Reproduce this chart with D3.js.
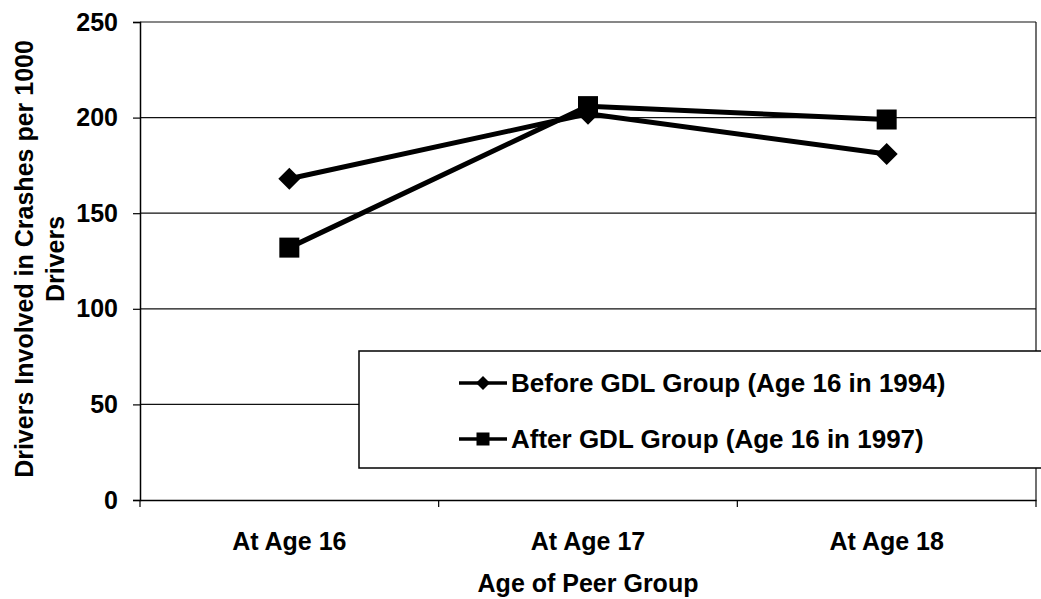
<!DOCTYPE html>
<html>
<head>
<meta charset="utf-8">
<script src="https://cdn.jsdelivr.net/npm/d3@7/dist/d3.min.js"></script>
<style>
  html, body { margin: 0; padding: 0; background: #fff; }
  svg { display: block; }
  text { font-family: "Liberation Sans", Arial, Helvetica, sans-serif; font-weight: bold; fill: #000; }
</style>
</head>
<body>
<svg id="chart" width="1041" height="599"></svg>
<script>
const categories = ["At Age 16", "At Age 17", "At Age 18"];
const beforeValues = [168, 202, 181];
const afterValues = [132, 206, 199];
const seriesNames = ["Before GDL Group (Age 16 in 1994)", "After GDL Group (Age 16 in 1997)"];
const yTicks = [0, 50, 100, 150, 200, 250];
const yTitleLines = ["Drivers Involved in Crashes per 1000", "Drivers"];
const xTitle = "Age of Peer Group";

(function () {
const svg = d3.select("#chart");
const pL = 140, pR = 1036, pT = 22, pB = 500;

const x = d3.scaleBand().domain(categories).range([pL, pR]);
const y = d3.scaleLinear().domain([0, 250]).range([pB, pT]);

// gridlines
svg.append("g").selectAll("line").data(yTicks.filter(t => t > 0)).join("line")
  .attr("x1", pL).attr("x2", pR)
  .attr("y1", d => y(d)).attr("y2", d => y(d))
  .attr("stroke", "#111").attr("stroke-width", 1.2);

// right border
svg.append("line").attr("x1", pR).attr("x2", pR).attr("y1", pT).attr("y2", pB)
  .attr("stroke", "#111").attr("stroke-width", 1.2);

// y axis
const yAxis = svg.append("g").attr("transform", `translate(${pL},0)`)
  .call(d3.axisLeft(y).tickValues(yTicks).tickSize(7).tickPadding(15));
yAxis.select(".domain").attr("stroke", "#000").attr("stroke-width", 1.5);
yAxis.selectAll(".tick line").attr("stroke", "#000").attr("stroke-width", 1.2);
yAxis.selectAll(".tick text").style("font-size", "25px").style("font-family", "Liberation Sans, Arial, sans-serif").style("font-weight", "bold").attr("fill", "#000");

// x axis
const xAxis = svg.append("g").attr("transform", `translate(0,${pB})`)
  .call(d3.axisBottom(x).tickSize(0).tickPadding(32));
xAxis.select(".domain").attr("stroke", "#000").attr("stroke-width", 1.5);
xAxis.selectAll(".tick text").style("font-size", "25px").style("font-family", "Liberation Sans, Arial, sans-serif").style("font-weight", "bold").attr("fill", "#000");
// x tick marks at category boundaries
const bounds = categories.map(c => x(c)).concat([x(categories[categories.length - 1]) + x.bandwidth()]);
svg.append("g").selectAll("line").data(bounds).join("line")
  .attr("x1", d => d).attr("x2", d => d).attr("y1", pB).attr("y2", pB + 7)
  .attr("stroke", "#000").attr("stroke-width", 1.2);

// axis titles
svg.append("text").attr("x", (pL + pR) / 2).attr("y", 592)
  .attr("text-anchor", "middle").style("font-size", "25px").text(xTitle);

const yt = svg.append("text").attr("transform", `translate(33,${(pT + pB) / 2 - 2}) rotate(-90)`)
  .attr("text-anchor", "middle").style("font-size", "25px");
yt.selectAll("tspan").data(yTitleLines).join("tspan")
  .attr("x", 0).attr("dy", (d, i) => i === 0 ? 0 : 31).text(d => d);

// lines
const cx = c => x(c) + x.bandwidth() / 2;
const line = d3.line().x((d, i) => cx(categories[i])).y(d => y(d));

const series = [
  { name: seriesNames[0], values: beforeValues, shape: "diamond" },
  { name: seriesNames[1], values: afterValues, shape: "square" }
];

function marker(g, shape, px, py, s) {
  if (shape === "diamond") {
    g.append("path")
      .attr("d", `M${px},${py - s}L${px + s},${py}L${px},${py + s}L${px - s},${py}Z`)
      .attr("fill", "#000");
  } else {
    g.append("rect").attr("x", px - s).attr("y", py - s).attr("width", 2 * s).attr("height", 2 * s)
      .attr("fill", "#000");
  }
}

series.forEach(s => {
  const g = svg.append("g");
  g.append("path").datum(s.values).attr("d", line)
    .attr("fill", "none").attr("stroke", "#000").attr("stroke-width", 5).attr("stroke-linejoin", "round");
  s.values.forEach((v, i) => {
    marker(g, s.shape, cx(categories[i]), y(v), s.shape === "diamond" ? 11 : 10);
  });
});

// legend
const lg = svg.append("g");
lg.append("rect").attr("x", 359).attr("y", 351).attr("width", 690).attr("height", 117)
  .attr("fill", "#fff").attr("stroke", "#000").attr("stroke-width", 1.5);
series.forEach((s, i) => {
  const ly = 383 + i * 56;
  lg.append("line").attr("x1", 459).attr("x2", 507).attr("y1", ly).attr("y2", ly)
    .attr("stroke", "#000").attr("stroke-width", 3.5);
  marker(lg, s.shape, 483, ly, s.shape === "diamond" ? 7 : 6.5);
  lg.append("text").attr("x", 511).attr("y", ly + 9).style("font-size", "26px").text(s.name);
});
})();
</script>
</body>
</html>
